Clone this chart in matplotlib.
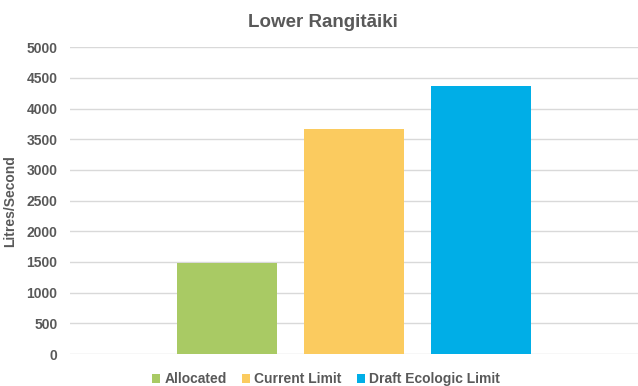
import matplotlib
matplotlib.use("Agg")
import matplotlib.pyplot as plt
from matplotlib.patches import Patch

series = ["Allocated", "Current Limit", "Draft Ecologic Limit"]
flows = [1480, 3665, 4365]
colours = ["#A9CA64", "#FBCB5F", "#00AEE7"]
yticks = [0, 500, 1000, 1500, 2000, 2500, 3000, 3500, 4000, 4500, 5000]

plt.rcParams["font.family"] = ["Liberation Sans", "DejaVu Sans"]
plt.rcParams["font.weight"] = "bold"
grey = "#595959"

fig = plt.figure(figsize=(6.38, 3.86), dpi=100)
ax = fig.add_axes([70 / 638, 1 - 354 / 386, 1 - 70 / 638, (354 - 47.3) / 386])

pos = list(range(len(series)))
ax.bar(pos, flows, width=0.78, color=colours, zorder=2)

ax.set_ylim(0, 5000)
ax.set_xlim(1 - 2.236, 1 + 2.236)
ax.set_yticks(yticks)
ax.set_yticklabels([str(v) for v in yticks], color=grey, fontsize=10, fontweight="bold")
ax.set_xticks([])
ax.tick_params(axis="y", length=0, pad=9)
ax.grid(axis="y", color="#D9D9D9", linewidth=1, zorder=0)
for s in ax.spines.values():
    s.set_visible(False)

ax.set_ylabel("Litres/Second", color=grey, fontsize=10, fontweight="bold")
ax.yaxis.set_label_coords(-0.093, 0.5)
fig.text(0.506, 0.943, "Lower Rangitāiki", ha="center", va="center",
         color=grey, fontsize=13.5, fontweight="bold")

handles = [Patch(facecolor=c, edgecolor="none") for c in colours]
leg = fig.legend(handles, series, loc="center", bbox_to_anchor=(0.511, 0.018), ncol=3,
                 frameon=False, fontsize=10, handlelength=0.6, handleheight=0.6,
                 handletextpad=0.3, columnspacing=1.1)
for t in leg.get_texts():
    t.set_color(grey)
    t.set_fontweight("bold")

fig.savefig("out.png", dpi=100)
